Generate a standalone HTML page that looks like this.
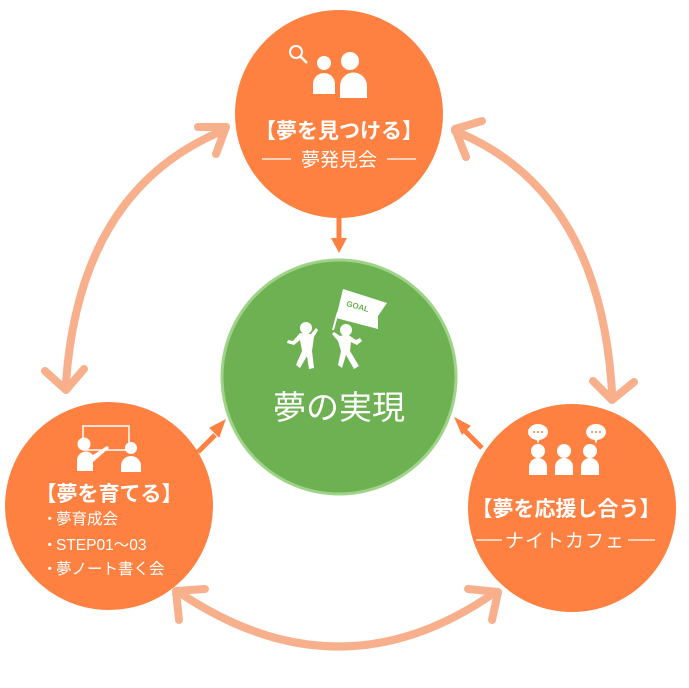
<!DOCTYPE html>
<html><head><meta charset="utf-8"><style>
html,body{margin:0;padding:0;background:#fff;}
svg{display:block;}
text{font-family:"Liberation Sans","Noto Sans CJK JP",sans-serif;fill:#fff;}
</style></head><body>
<svg width="689" height="688" viewBox="0 0 689 688" xmlns="http://www.w3.org/2000/svg">
<g fill="none" stroke="#f8b08c" stroke-width="8" stroke-linecap="round" stroke-linejoin="round">
<path d="M222,131 Q80,190 66,382"/>
<path d="M198,127 L226,127 L216,154"/>
<path d="M45,371 L66,390 L84,369"/>
<path d="M455,131 Q600,190 612,392"/>
<path d="M466,157 L455,129 L482,121"/>
<path d="M593,381 L612,400 L634,382"/>
<path d="M180,593 Q340,700 494,593"/>
<path d="M179,620 L176,591 L205,589"/>
<path d="M468,589 L498,592 L492,620"/>
</g>
<g stroke="#ff8142" stroke-width="5" fill="#ff8142">
<line x1="339" y1="215" x2="339" y2="240"/>
<polygon points="331,238 347,238 339,253" stroke="none"/>
<line x1="198" y1="452" x2="215" y2="435"/>
<polygon points="210,428 225,420 219,437" stroke-width="1"/>
<line x1="482" y1="448" x2="465" y2="431"/>
<polygon points="470,426 455,418 462,434" stroke-width="1"/>
</g>
<circle cx="339" cy="114" r="104" fill="#ff8142"/>
<circle cx="109" cy="506" r="104" fill="#ff8142"/>
<circle cx="572" cy="508" r="104" fill="#ff8142"/>
<circle cx="339" cy="377" r="117" fill="#6db152" stroke="#9fd488" stroke-width="3"/>
<g fill="#fff">
<circle cx="296" cy="52" r="6" fill="none" stroke="#fff" stroke-width="2"/>
<line x1="300" y1="56" x2="307" y2="63" stroke="#fff" stroke-width="2.5"/>
<circle cx="324" cy="63" r="7"/>
<path d="M313,94 v-10 a11,11 0 0 1 22,0 v10z"/>
<circle cx="350" cy="61" r="9"/>
<path d="M340,98 v-12 a12,12 0 0 1 27,0 v12z"/>
</g>
<text x="339" y="138" font-size="21" font-weight="bold" text-anchor="middle">【夢を見つける】</text>
<line x1="262" y1="159" x2="291" y2="159" stroke="#fff" stroke-width="1.2"/>
<line x1="387" y1="159" x2="416" y2="159" stroke="#fff" stroke-width="1.2"/>
<text x="339" y="166" font-size="19" text-anchor="middle">夢発見会</text>
<g fill="#fff">
<rect x="83" y="426" width="46" height="24" fill="none" stroke="#fff" stroke-width="1.5"/>
<circle cx="84" cy="444" r="6.5"/>
<path d="M77,471 v-12 a9,9 0 0 1 16,-4 l14,-9 2,2 -16,14 v9z"/>
<circle cx="131" cy="448" r="6"/>
<path d="M121,472 v-6 a10,10 0 0 1 20,0 v6z"/>
</g>
<text x="109" y="501" font-size="21" font-weight="bold" text-anchor="middle">【夢を育てる】</text>
<g font-size="15.5">
<text x="42" y="524">・</text><text x="56" y="524">夢育成会</text>
<text x="42" y="550">・</text><text x="56" y="550">STEP01〜03</text>
<text x="42" y="574">・</text><text x="56" y="574">夢ノート書く会</text>
</g>
<g fill="#fff">
<ellipse cx="538" cy="432" rx="10" ry="8"/><polygon points="536,438 540,438 538,444"/>
<ellipse cx="596" cy="432" rx="10" ry="8"/><polygon points="594,438 598,438 596,444"/>
<circle cx="538" cy="451" r="7"/><path d="M529,475 v-8 a9,9 0 0 1 18,0 v8z"/>
<circle cx="564" cy="451" r="7"/><path d="M555,475 v-8 a9,9 0 0 1 18,0 v8z"/>
<circle cx="590" cy="451" r="7"/><path d="M581,475 v-8 a9,9 0 0 1 18,0 v8z"/>
</g>
<g fill="#ff8142"><circle cx="534" cy="432" r="1"/><circle cx="538" cy="432" r="1"/><circle cx="542" cy="432" r="1"/><circle cx="592" cy="432" r="1"/><circle cx="596" cy="432" r="1"/><circle cx="600" cy="432" r="1"/></g>
<text x="566" y="516" font-size="21" font-weight="bold" text-anchor="middle">【夢を応援し合う】</text>
<line x1="476" y1="540" x2="502" y2="540" stroke="#fff" stroke-width="1.2"/>
<line x1="628" y1="540" x2="655" y2="540" stroke="#fff" stroke-width="1.2"/>
<text x="565" y="547" font-size="19" text-anchor="middle" letter-spacing="1">ナイトカフェ</text>
<g fill="#fff">
<polygon points="343,289 387,303 378,316 378,329 336,318"/>
<line x1="338" y1="312" x2="333" y2="330" stroke="#fff" stroke-width="2"/>
<circle cx="306" cy="328" r="6"/>
<path d="M300,333 l-7,8 -5,-1 -1,3 7,2 6,-5 2,11 -6,14 4,3 7,-12 2,13 5,-1 -2,-17 2,-14 4,-7 -2,-2 -5,6z"/>
<circle cx="346" cy="330" r="6"/>
<path d="M340,336 l-6,-4 -2,2 6,7 3,10 -3,14 4,3 4,-13 8,14 5,-3 -9,-15 1,-9 6,3 5,-4 -2,-3 -4,2 -9,-6z"/>
</g>
<text x="357" y="309" font-size="8" font-weight="bold" style="fill:#6db152" transform="rotate(15 357 309)" text-anchor="middle">GOAL</text>
<text x="339" y="419" font-size="33" text-anchor="middle">夢の実現</text>
</svg>
</body></html>
